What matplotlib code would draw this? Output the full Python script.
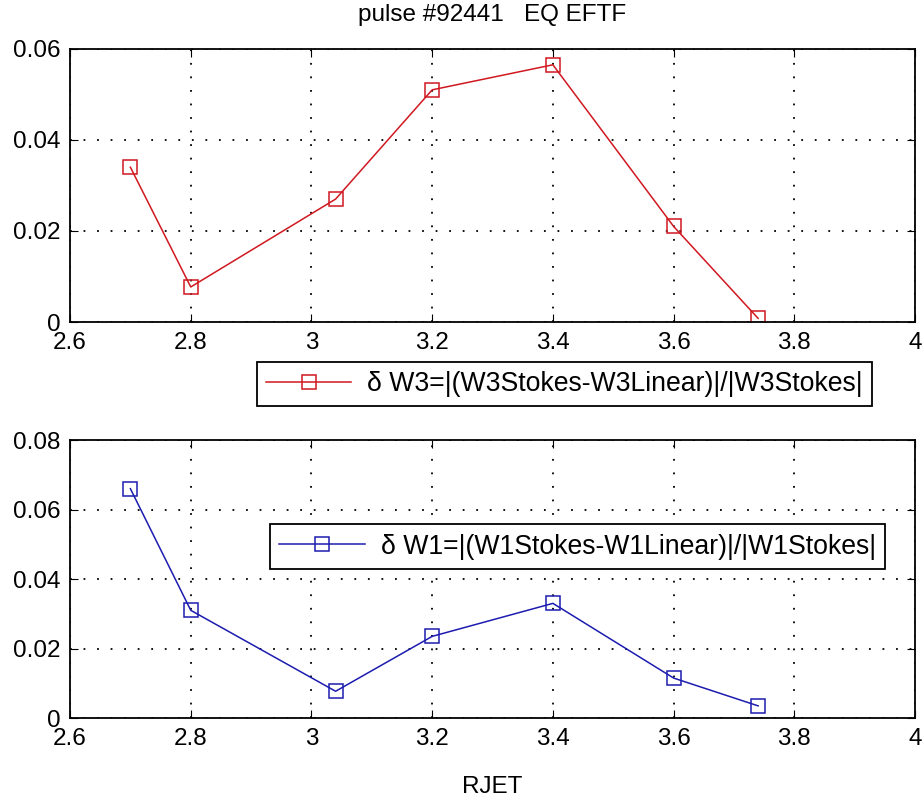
import matplotlib
matplotlib.use('Agg')
from matplotlib import pyplot as plt

plt.rcParams['font.family'] = ['Liberation Sans', 'DejaVu Sans']

# radial positions (RJET) and relative errors
rjet = [2.7, 2.8, 3.04, 3.2, 3.4, 3.6, 3.74]
dw3 = [0.034, 0.0077, 0.027, 0.051, 0.0565, 0.021, 0.0008]
dw1 = [0.066, 0.031, 0.0077, 0.0235, 0.033, 0.0115, 0.0035]
xticks = [2.6, 2.8, 3.0, 3.2, 3.4, 3.6, 3.8, 4.0]
xticklabels = ['2.6', '2.8', '3', '3.2', '3.4', '3.6', '3.8', '4']

red = '#d01820'
blue = '#1c1cb0'


def style(ax, ymax, yticks):
    ax.set_xlim(2.6, 4.0)
    ax.set_ylim(0, ymax)
    ax.set_xticks(xticks)
    ax.set_xticklabels(xticklabels)
    ax.set_yticks(yticks)
    ax.set_yticklabels(['0'] + ['%.2f' % v for v in yticks[1:]])
    ax.grid(True, color='black', linestyle=(0, (1, 6.5)), linewidth=1.3)
    ax.tick_params(direction='in', length=6, labelsize=17.5, pad=7,
                   top=True, right=True)
    for s in ax.spines.values():
        s.set_linewidth(1.3)


fig = plt.figure(figsize=(9.24, 8.01), dpi=100)
ax1 = fig.add_axes([0.0758, 0.598, 0.9145, 0.341])
ax2 = fig.add_axes([0.0758, 0.1036, 0.9145, 0.347])

ax1.plot(rjet, dw3, '-s', color=red, lw=1.1, ms=9.5, mfc='none', mew=1.1,
         label='\u03b4 W3=|(W3Stokes-W3Linear)|/|W3Stokes|')
style(ax1, 0.06, [0, 0.02, 0.04, 0.06])
ax1.set_title('pulse #92441   EQ EFTF', fontsize=17.5, pad=20)

ax2.plot(rjet, dw1, '-s', color=blue, lw=1.1, ms=9.5, mfc='none', mew=1.1,
         label='\u03b4 W1=|(W1Stokes-W1Linear)|/|W1Stokes|')
style(ax2, 0.08, [0, 0.02, 0.04, 0.06, 0.08])
ax2.set_xlabel('RJET', fontsize=17.5, labelpad=19)

for ax, pos in ((ax1, (0.611, 0.5206)), (ax2, (0.625, 0.3177))):
    leg = ax.legend(loc='center', bbox_to_anchor=pos,
                    bbox_transform=fig.transFigure, fontsize=19.2,
                    fancybox=False, framealpha=1, edgecolor='black',
                    handlelength=3.2, borderpad=0.35, handletextpad=0.6)
    leg.get_frame().set_linewidth(1.3)

fig.savefig('out.png', dpi=100)
